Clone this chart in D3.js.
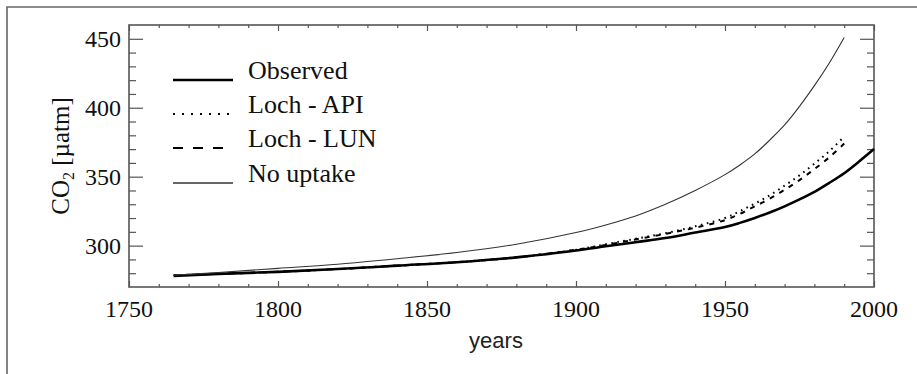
<!DOCTYPE html>
<html><head><meta charset="utf-8">
<script src="https://cdn.jsdelivr.net/npm/d3@7"></script>
<style>body{margin:0;background:#fff}svg{display:block}</style>
</head><body><svg id="c" width="917" height="374"></svg>
<script>
const years      = [1765,1780,1800,1820,1840,1860,1880,1900,1910,1920,1930,1940,1950,1955,1960,1965,1970,1975,1980,1985,1990,1995,2000];
const observed   = [278,279.5,281,283,285.5,288,291.5,296.5,299.5,302.5,305.5,309.5,313.5,316.5,320,324,328.5,333.5,339,345.5,352.5,361,370];
const lochAPI    = [278.5,279.5,281,283,285.5,288,291.5,297,301,305,309,314,320,325,330.5,336.5,343.5,351,359.5,368.5,379,null,null];
const lochLUN    = [278.5,279.5,281,283,285.5,288,291.5,297,300.5,304.5,308.5,313,318.5,323,328.5,334,340.5,347.5,355.5,364,374,null,null];
const noUptake   = [278.5,280.5,283.5,286.5,290.5,295,301,309.5,315,321.5,330,340,351.5,358.5,366.5,376.5,387.5,401,416,432.5,451,null,null];
const xTicks = [1750,1800,1850,1900,1950,2000];
const yTicks = [300,350,400,450];
const legendLabels = ["Observed","Loch - API","Loch - LUN","No uptake"];

const svg = d3.select("#c");
const L=129, R=874, T=25, B=287;
const x = d3.scaleLinear().domain([1750,2000]).range([L,R]);
const y = d3.scaleLinear().domain([270,460]).range([B,T]);
const frameCol = "#555";

svg.append("path").attr("d",`M7,374V7H917`).attr("fill","none").attr("stroke","#666").attr("stroke-width",1.6);

const g = svg.append("g");
const serif = "'Liberation Serif','Times New Roman',serif";

const xMinor = d3.range(1750,2001,10);
const yMinor = d3.range(280,451,10);
g.append("g").attr("transform",`translate(0,${B})`)
  .call(d3.axisBottom(x).tickValues(xMinor).tickSizeInner(0).tickSizeOuter(0).tickFormat(""))
  .call(s=>{s.select(".domain").remove();
    s.selectAll(".tick line").attr("y2",d=>-(d%50===0?6:3)).attr("stroke",frameCol).attr("stroke-width",1.2);});
g.append("g").attr("transform",`translate(0,${T})`)
  .call(d3.axisTop(x).tickValues(xMinor).tickSizeInner(0).tickSizeOuter(0).tickFormat(""))
  .call(s=>{s.select(".domain").remove();
    s.selectAll(".tick line").attr("y2",d=>(d%50===0?6:3)).attr("stroke",frameCol).attr("stroke-width",1.2);});
g.append("g").attr("transform",`translate(${L},0)`)
  .call(d3.axisLeft(y).tickValues(yMinor).tickSizeInner(0).tickSizeOuter(0).tickFormat(""))
  .call(s=>{s.select(".domain").remove();
    s.selectAll(".tick line").attr("x2",d=>(d%50===0?14:7)).attr("stroke",frameCol).attr("stroke-width",1.2);});
g.append("g").attr("transform",`translate(${R},0)`)
  .call(d3.axisRight(y).tickValues(yMinor).tickSizeInner(0).tickSizeOuter(0).tickFormat(""))
  .call(s=>{s.select(".domain").remove();
    s.selectAll(".tick line").attr("x2",d=>-(d%50===0?14:7)).attr("stroke",frameCol).attr("stroke-width",1.2);});

g.append("rect").attr("x",L).attr("y",T).attr("width",R-L).attr("height",B-T)
  .attr("fill","none").attr("stroke",frameCol).attr("stroke-width",1.6);

g.selectAll(".xl").data(xTicks).join("text").attr("x",d=>x(d)).attr("y",317)
  .attr("text-anchor","middle").attr("font-family",serif).attr("font-size",24).attr("fill","#111").text(d=>d);
g.selectAll(".yl").data(yTicks).join("text").attr("x",L-8).attr("y",d=>y(d)).attr("dy","0.35em")
  .attr("text-anchor","end").attr("font-family",serif).attr("font-size",24).attr("fill","#111").text(d=>d);

g.append("text").attr("x",496).attr("y",348).attr("text-anchor","middle")
  .attr("font-family","'Liberation Sans',Arial,sans-serif").attr("font-size",22).attr("fill","#222").text("years");
const yt = g.append("text").attr("transform",`translate(69,${(T+B)/2}) rotate(-90)`).attr("text-anchor","middle")
  .attr("font-family",serif).attr("font-size",25).attr("fill","#111");
yt.append("tspan").text("CO");
yt.append("tspan").attr("font-size",16).attr("dy",5).text("2");
yt.append("tspan").attr("dy",-5).text(" [µatm]");

const series = [
  {vals:observed, w:2.6, dash:null, col:"#000", ldash:null, lw:2.6},
  {vals:lochAPI, w:2, dash:"1.6,4.5", col:"#000", ldash:"2,7", lw:1.8},
  {vals:lochLUN, w:2, dash:"5,6", col:"#000", ldash:"10,10", lw:1.8},
  {vals:noUptake, w:1.1, dash:null, col:"#333", ldash:null, lw:1.3}
];
const line = d3.line().defined(d=>d[1]!=null).x(d=>x(d[0])).y(d=>y(d[1])).curve(d3.curveCatmullRom.alpha(0.5));
series.forEach(s=>{
  g.append("path").datum(years.map((yr,i)=>[yr,s.vals[i]])).attr("d",line)
    .attr("fill","none").attr("stroke",s.col).attr("stroke-width",s.w)
    .attr("stroke-dasharray",s.dash).attr("stroke-linejoin","round");
});

const legY = [80,114,148,183];
series.forEach((s,i)=>{
  g.append("line").attr("x1",173).attr("x2",233).attr("y1",legY[i]).attr("y2",legY[i])
    .attr("stroke",s.col).attr("stroke-width",s.lw).attr("stroke-dasharray",s.ldash);
  g.append("text").attr("x",248).attr("y",legY[i]-1).attr("font-family",serif).attr("font-size",26)
    .attr("fill","#111").text(legendLabels[i]);
});
</script></body></html>
